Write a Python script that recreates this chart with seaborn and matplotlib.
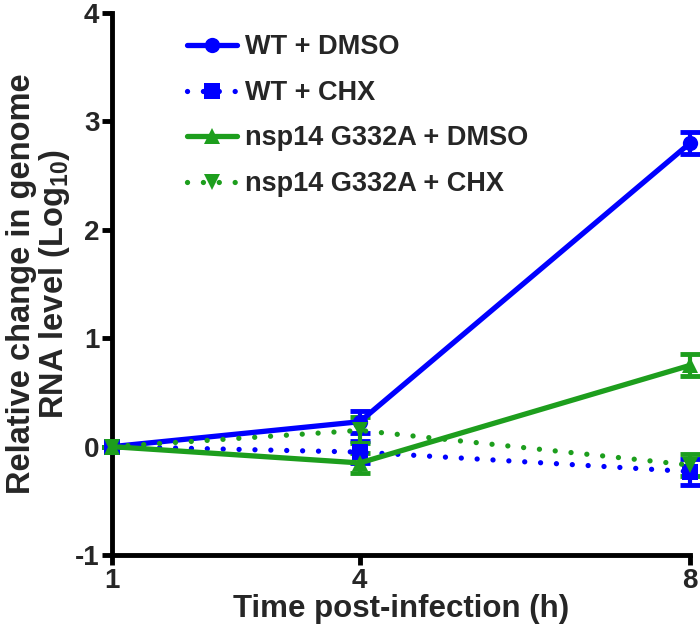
import matplotlib
matplotlib.use("Agg")
import matplotlib.pyplot as plt
import seaborn as sns
import pandas as pd

hours = [1, 4, 8]
labels = ["WT + DMSO", "WT + CHX", "nsp14 G332A + DMSO", "nsp14 G332A + CHX"]
wt_dmso = [0.0, 0.23, 2.80]
wt_chx = [0.0, -0.05, -0.23]
g_dmso = [0.0, -0.15, 0.75]
g_chx = [0.0, 0.15, -0.17]
wt_dmso_err = [0.0, 0.10, 0.10]
wt_chx_err = [0.0, 0.10, 0.12]
g_dmso_err = [0.0, 0.09, 0.10]
g_chx_err = [0.0, 0.12, 0.10]

blue = "#0000ff"
green = "#1d9e1d"

sns.set_theme(style="ticks")
plt.rcParams['font.family'] = ['Liberation Sans', 'DejaVu Sans']
plt.rcParams['font.weight'] = 'bold'
plt.rcParams['mathtext.fontset'] = 'custom'
plt.rcParams['mathtext.rm'] = 'Liberation Sans:bold'
plt.rcParams['mathtext.default'] = 'rm'

fig = plt.figure(figsize=(7, 6.41), dpi=100)
ax = fig.add_axes([0.16, 0.134, 0.826, 0.846])

dot = (0, (0.01, 3.0))
series = [
    (wt_dmso, wt_dmso_err, blue, "o", "-"),
    (wt_chx, wt_chx_err, blue, "s", dot),
    (g_dmso, g_dmso_err, green, "^", "-"),
    (g_chx, g_chx_err, green, "v", dot),
]

for lab, (vals, errs, col, mk, ls) in zip(labels, series):
    df = pd.DataFrame({"h": hours, "v": vals})
    ax.errorbar(hours, vals, yerr=errs, fmt="none", ecolor=col,
                elinewidth=3, capsize=7, capthick=3.5, clip_on=False, zorder=3)
    sns.lineplot(data=df, x="h", y="v", ax=ax, color=col, marker=mk,
                 markersize=11, markeredgewidth=0, linewidth=3.8,
                 linestyle=ls, dash_capstyle="round", label=lab,
                 clip_on=False, zorder=4)

ax.set_xlim(1, 8)
ax.set_ylim(-1, 4)
ax.set_xticks([1, 4, 8])
ax.set_yticks([-1, 0, 1, 2, 3, 4])
ax.set_xticklabels(["1", "4", "8"])
ax.set_yticklabels(["-1", "0", "1", "2", "3", "4"])
for s in ["top", "right"]:
    ax.spines[s].set_visible(False)
for s in ["left", "bottom"]:
    ax.spines[s].set_linewidth(3.5)
    ax.spines[s].set_color("black")
ax.tick_params(axis="both", width=3.5, length=7, color="black",
               labelsize=20, pad=2, direction="out")
for t in ax.get_xticklabels() + ax.get_yticklabels():
    t.set_fontweight("bold")

ax.set_xlabel("Time post-infection (h)", fontsize=22.5, fontweight="bold", labelpad=0)
ax.set_ylabel("Relative change in genome\nRNA level (Log$_{10}$)", fontsize=23.5,
              fontweight="bold", labelpad=2, linespacing=1.0)

leg = ax.legend(loc="upper left", bbox_to_anchor=(0.106, 0.985), frameon=False,
                fontsize=19.5, handlelength=1.85, handletextpad=0.3,
                labelspacing=0.72, borderpad=0)
for t in leg.get_texts():
    t.set_fontweight("bold")

fig.savefig("out.png", dpi=100)
